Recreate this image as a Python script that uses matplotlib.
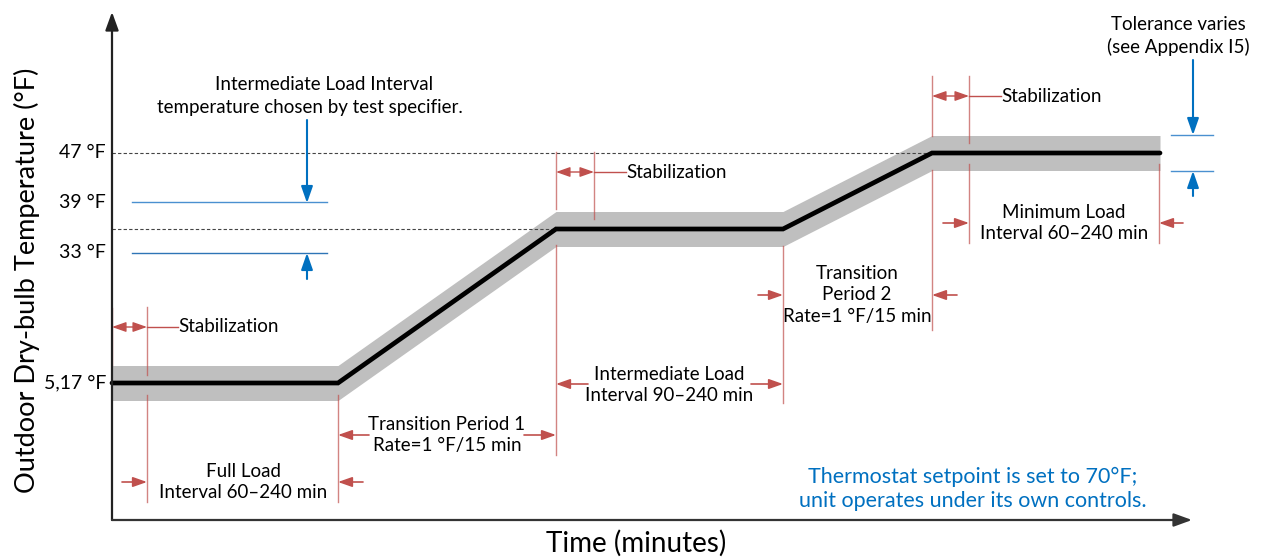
import matplotlib.pyplot as plt
import numpy as np

# schematic coordinates (figure pixels, y grows downward)
profile_t = [112, 338, 556, 783, 932, 1160]
profile_level = [383, 383, 229, 229, 153, 153]
band_half = 17.5

temp_labels = ['47 °F', '39 °F', '33 °F', '5,17 °F']
temp_pos = [153, 202, 253, 383]

# red boundary markers: x, top, bottom
markers = [
    (112, 308, 365), (147, 307, 375), (147, 395, 502),
    (338, 395, 502), (556, 152, 209), (556, 245, 455),
    (594, 152, 219), (783, 246, 403), (932, 76, 136),
    (932, 170, 330), (969, 76, 143), (969, 164, 243),
    (1159, 164, 243),
]

# red arrows: x_from, y_from, x_to, y_to
red_arrows = [
    (122, 482, 147, 482), (363, 482, 338, 482),
    (369, 435, 338, 435), (524, 435, 556, 435),
    (588, 384, 556, 384), (751, 384, 783, 384),
    (758, 295, 783, 295), (957, 295, 932, 295),
    (943, 223, 969, 223), (1183, 223, 1159, 223),
]

# stabilization double arrows: x_left, x_right, y, text_x
stab = [(112, 147, 327, 178), (556, 594, 172, 626), (932, 969, 96, 1001)]

texts = [
    ('Full Load\nInterval 60–240 min', 243, 482),
    ('Transition Period 1\nRate=1 °F/15 min', 447, 435),
    ('Intermediate Load\nInterval 90–240 min', 669, 385),
    ('Transition\nPeriod 2\nRate=1 °F/15 min', 857, 295),
    ('Minimum Load\nInterval 60–240 min', 1064, 223),
    ('Tolerance varies\n(see Appendix I5)', 1178, 36),
]

plt.rcParams['font.family'] = ['Lato', 'DejaVu Sans']
red = '#c0504d'
blue = '#0070c0'

fig = plt.figure(figsize=(12.61, 5.57), dpi=100)
ax = fig.add_axes([0, 0, 1, 1])
ax.set_xlim(0, 1261)
ax.set_ylim(557, 0)
ax.axis('off')


def arrow(x0, y0, x1, y1, color, style='-|>,head_length=0.85,head_width=0.3', lw=1.2):
    ax.annotate('', xy=(x1, y1), xytext=(x0, y0),
                arrowprops=dict(arrowstyle=style, color=color, lw=lw,
                                shrinkA=0, shrinkB=0, mutation_scale=10))


# axes
arrow(112, 520, 112, 12, '#222222', '-|>,head_length=1.1,head_width=0.4', 1.6)
arrow(112, 520, 1192, 520, '#333333', '-|>,head_length=1.1,head_width=0.4', 1.6)

# dashed reference levels
ax.plot([112, profile_t[4]], [profile_level[4]] * 2, ls=(0, (3, 2)), color='#444444', lw=0.8)
ax.plot([112, profile_t[2]], [profile_level[2]] * 2, ls=(0, (3, 2)), color='#444444', lw=0.8)

# tolerance band and profile
pt = np.array(profile_t, dtype=float)
pl = np.array(profile_level, dtype=float)
ax.fill_between(pt, pl - band_half, pl + band_half, color='#bfbfbf', lw=0)
ax.plot(pt, pl, color='black', lw=3.4, solid_capstyle='round', solid_joinstyle='miter')

# temperature labels
for lab, y in zip(temp_labels, temp_pos):
    ax.text(106, y, lab, ha='right', va='center', fontsize=14)

# intermediate temperature range (blue)
ax.plot([132, 327], [202, 202], color='#4a90d0', lw=1.0)
ax.plot([132, 327], [253, 253], color='#2e75b6', lw=1.0)
arrow(307, 120, 307, 203, blue, '-|>,head_length=1.0,head_width=0.35', 1.5)
arrow(307, 279, 307, 253, blue, '-|>,head_length=1.0,head_width=0.35', 1.5)
ax.text(324, 84, 'Intermediate Load Interval', ha='center', va='center', fontsize=13.5)
ax.text(310, 108, 'temperature chosen by test specifier.', ha='center', va='center', fontsize=13.5)

# tolerance marker (blue)
ax.plot([1171, 1213], [135, 135], color='#4a90d0', lw=1.0)
ax.plot([1171, 1213], [171, 171], color='#4a90d0', lw=1.0)
arrow(1193, 60, 1193, 135, blue, '-|>,head_length=1.0,head_width=0.35', 1.5)
arrow(1193, 196, 1193, 171, blue, '-|>,head_length=1.0,head_width=0.35', 1.5)

# red markers
for x, y0, y1 in markers:
    ax.plot([x, x], [y0, y1], color=red, alpha=0.7, lw=1.0)
for x0, y0, x1, y1 in red_arrows:
    arrow(x0, y0, x1, y1, red)
for xl, xr, y, tx in stab:
    arrow(xl, y, xr, y, red, '<|-|>,head_length=0.85,head_width=0.3', 1.0)
    ax.plot([xr, tx], [y, y], color=red, lw=1.0)
    ax.text(tx, y, 'Stabilization', ha='left', va='center', fontsize=13.5)

for s, x, y in texts:
    ax.text(x, y, s, ha='center', va='center', fontsize=13.5, linespacing=1.3)

ax.text(973, 489, 'Thermostat setpoint is set to 70°F;\nunit operates under its own controls.',
        ha='center', va='center', fontsize=15.5, color=blue, linespacing=1.2)

ax.text(636, 543, 'Time (minutes)', ha='center', va='center', fontsize=20)
ax.text(27, 280, 'Outdoor Dry-bulb Temperature (°F)', ha='center', va='center',
        fontsize=19.5, rotation=90)

fig.savefig('out.png', dpi=100)
